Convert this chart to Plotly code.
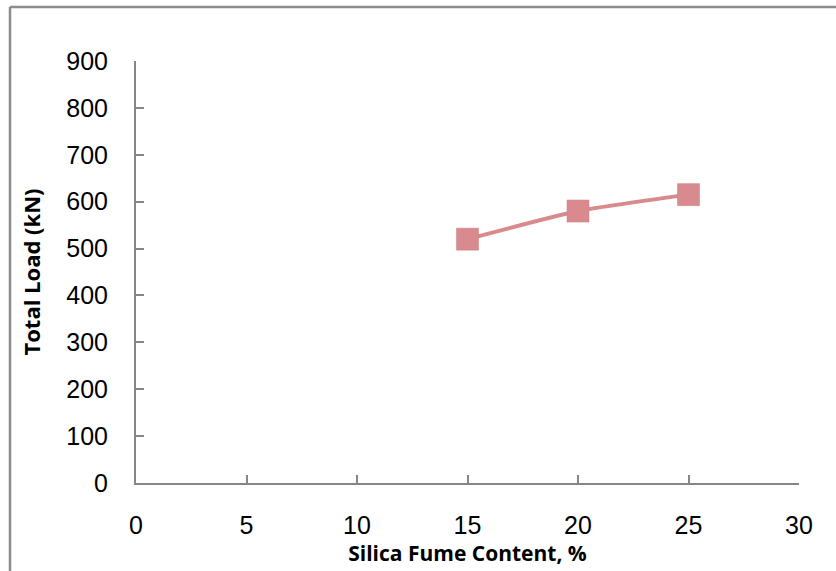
import plotly.graph_objects as go

silica_fume = [15, 20, 25]
total_load = [520, 580, 615]
x_ticks = [0, 5, 10, 15, 20, 25, 30]
y_ticks = [0, 100, 200, 300, 400, 500, 600, 700, 800, 900]

L, R, T, B = 136, 37, 61, 88
W, H = 836, 571
pw, ph = W - L - R, H - T - B

fig = go.Figure()
fig.add_trace(go.Scatter(
    x=silica_fume, y=total_load, mode="lines+markers",
    line=dict(color="#d98a8c", width=4, shape="spline", smoothing=0.5),
    marker=dict(symbol="square", size=22, color="#d98a8e",
                line=dict(color="#c97f82", width=0.5)),
    showlegend=False, cliponaxis=False,
))

axis_common = dict(
    showline=True, linecolor="#868686", linewidth=2,
    ticks="inside", ticklen=8, tickwidth=2, tickcolor="#868686",
    showgrid=False, zeroline=False,
    tickfont=dict(family="Liberation Sans, Arial", size=25, color="#000"),
)

fig.update_xaxes(range=[0, 30], tickvals=x_ticks, ticktext=[str(v) for v in x_ticks],
                 ticklabelstandoff=19,
                 title=dict(text="<b>Silica Fume Content, %</b>", standoff=2,
                            font=dict(family="Open Sans", size=21, color="#000")),
                 **axis_common)
fig.update_yaxes(range=[0, 900], tickvals=y_ticks, ticktext=[str(v) for v in y_ticks],
                 ticklabelstandoff=21,
                 title=dict(text="<b>Total Load (kN)</b>", standoff=20,
                            font=dict(family="Open Sans", size=22, color="#000")),
                 **axis_common)

# outer chart border (left and top edges)
x_left = (10 - L) / pw
y_top = 1 + (T - 7) / ph
y_bot = 1 + (T - H - 5) / ph
x_right = 1 + (R + 5) / pw
fig.add_shape(type="line", xref="paper", yref="paper", x0=x_left, x1=x_left,
              y0=y_bot, y1=y_top, line=dict(color="#8c8c8c", width=2.5))
fig.add_shape(type="line", xref="paper", yref="paper", x0=x_left, x1=x_right,
              y0=y_top, y1=y_top, line=dict(color="#8c8c8c", width=2.5))

fig.update_layout(
    width=W, height=H,
    margin=dict(l=L, r=R, t=T, b=B, autoexpand=False),
    plot_bgcolor="white", paper_bgcolor="white",
)

fig.write_html("out.html")
